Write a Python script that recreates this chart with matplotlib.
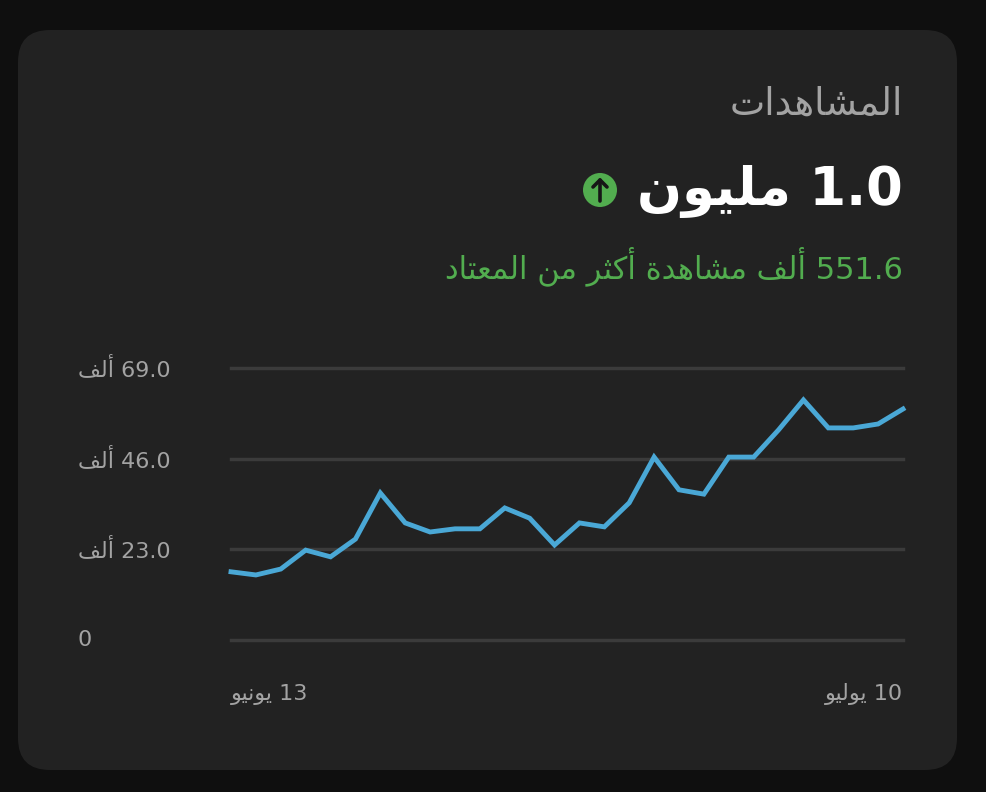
import matplotlib
matplotlib.use('Agg')
import matplotlib.pyplot as plt
from matplotlib.patches import FancyBboxPatch, Circle
from matplotlib.transforms import blended_transform_factory

# Daily views (thousands), June 13 -> July 10
views = [17.3, 16.5, 18.0, 22.8, 21.1, 25.6, 37.3, 29.7, 27.4, 28.2, 28.2, 33.5, 30.9, 24.1,
         29.7, 28.7, 34.8, 46.4, 38.1, 37.0, 46.4, 46.4, 53.3, 60.9, 53.8, 53.8, 54.8, 58.6]
y_ticks = [0, 23.0, 46.0, 69.0]
y_tick_labels = ['0', '23.0 ألف', '46.0 ألف', '69.0 ألف']
x_labels = ['13 يونيو', '10 يوليو']
title = 'المشاهدات'
total = '1.0 مليون'
delta = '551.6 ألف مشاهدة أكثر من المعتاد'

# minimal arabic shaping (matplotlib does no shaping / bidi by itself)
# isolated, final, initial, medial
FORMS = {
    'ا': (0xFE8D, 0xFE8E, None, None), 'أ': (0xFE83, 0xFE84, None, None),
    'د': (0xFEA9, 0xFEAA, None, None), 'و': (0xFEED, 0xFEEE, None, None),
    'ة': (0xFE93, 0xFE94, None, None), 'ر': (0xFEAD, 0xFEAE, None, None),
    'ل': (0xFEDD, 0xFEDE, 0xFEDF, 0xFEE0), 'م': (0xFEE1, 0xFEE2, 0xFEE3, 0xFEE4),
    'ش': (0xFEB5, 0xFEB6, 0xFEB7, 0xFEB8), 'ه': (0xFEE9, 0xFEEA, 0xFEEB, 0xFEEC),
    'ت': (0xFE95, 0xFE96, 0xFE97, 0xFE98), 'ي': (0xFEF1, 0xFEF2, 0xFEF3, 0xFEF4),
    'ن': (0xFEE5, 0xFEE6, 0xFEE7, 0xFEE8), 'ف': (0xFED1, 0xFED2, 0xFED3, 0xFED4),
    'ك': (0xFED9, 0xFEDA, 0xFEDB, 0xFEDC), 'ث': (0xFE99, 0xFE9A, 0xFE9B, 0xFE9C),
    'ع': (0xFEC9, 0xFECA, 0xFECB, 0xFECC),
}


def shape_word(w):
    if not any(c in FORMS for c in w):
        return w
    out = []
    for i, c in enumerate(w):
        f = FORMS.get(c)
        if f is None:
            out.append(c)
            continue
        prev = FORMS.get(w[i - 1]) if i > 0 else None
        nxt = FORMS.get(w[i + 1]) if i + 1 < len(w) else None
        jp = prev is not None and prev[2] is not None
        jn = nxt is not None and f[2] is not None
        if jp and jn:
            code = f[3]
        elif jp:
            code = f[1]
        elif jn:
            code = f[2]
        else:
            code = f[0]
        out.append(chr(code))
    return ''.join(out[::-1])


def rtl(s):
    return ' '.join(shape_word(w) for w in s.split(' ')[::-1])


BG = '#0f0f0f'
CARD = '#222222'
GREY = '#a3a3a3'
GREEN = '#52ad4f'
LINE = '#4aa8d6'
GRID = '#3b3b3b'

fig = plt.figure(figsize=(9.87, 7.92), dpi=100, facecolor=BG)
fig.add_artist(FancyBboxPatch((0.18, 0.22), 9.39, 7.40, boxstyle='round,pad=0,rounding_size=0.32',
                              transform=fig.dpi_scale_trans, facecolor=CARD, edgecolor='none',
                              zorder=-5))

W, H = 987, 792
fig.text(903 / W, 1 - 105 / H, rtl(title), ha='right', va='center', color=GREY, fontsize=27,
         family='DejaVu Sans')
fig.text(903 / W, 1 - 192 / H, rtl(total), ha='right', va='center', color='white', fontsize=38,
         fontweight='bold', family='DejaVu Sans')
fig.text(903 / W, 1 - 266 / H, rtl(delta), ha='right', va='center', color=GREEN, fontsize=22,
         family='DejaVu Sans')

# up-arrow badge
fig.add_artist(Circle((6.00, 6.02), 0.17, transform=fig.dpi_scale_trans, facecolor=GREEN,
                      edgecolor='none'))
fig.add_artist(plt.Line2D([6.00, 6.00], [5.91, 6.12], transform=fig.dpi_scale_trans,
                          color='#161616', lw=2.6, solid_capstyle='round'))
fig.add_artist(plt.Line2D([5.93, 6.00, 6.07], [6.05, 6.12, 6.05], transform=fig.dpi_scale_trans,
                          color='#161616', lw=2.6, solid_capstyle='round', solid_joinstyle='round'))

ax = fig.add_axes([231 / W, 152 / H, 672 / W, 272 / H])
ax.set_facecolor('none')
ax.set_xlim(0, len(views) - 1)
ax.set_ylim(0, 69)
for v in y_ticks:
    ax.axhline(v, color=GRID, lw=2.5, zorder=1, clip_on=False)
ax.plot(range(len(views)), views, color=LINE, lw=3.5, zorder=3, clip_on=False,
        solid_joinstyle='miter')
for s in ax.spines.values():
    s.set_visible(False)
ax.set_xticks([])
ax.set_yticks([])

tr = blended_transform_factory(fig.transFigure, ax.transData)
for v, lab in zip(y_ticks, y_tick_labels):
    ax.text(78 / W, v, rtl(lab), transform=tr, ha='left', va='center', color=GREY, fontsize=16,
            family='DejaVu Sans')

ax.text(0, -0.2, rtl(x_labels[0]), transform=ax.transAxes, ha='left', va='center', color=GREY,
        fontsize=16, family='DejaVu Sans')
ax.text(1, -0.2, rtl(x_labels[1]), transform=ax.transAxes, ha='right', va='center', color=GREY,
        fontsize=16, family='DejaVu Sans')

fig.savefig('out.png', dpi=100, facecolor=BG)
